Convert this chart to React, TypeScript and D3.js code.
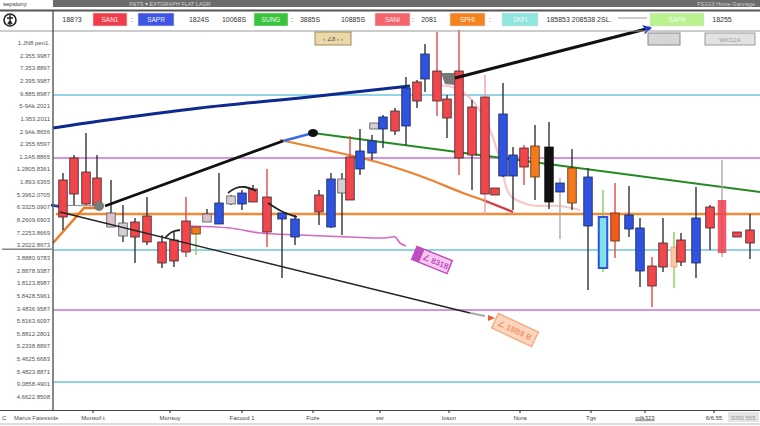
import React from 'react';
import * as d3 from 'd3';

const W = 760;
const H = 426;

// ---- candles (time index, prices) ----
const candleTime = [1.0, 2.1, 3.3, 4.4, 5.8, 7.0, 8.2, 9.4, 10.9, 12.1, 13.3, 14.3, 15.4, 16.6, 17.8, 18.9, 20.0, 21.4, 22.9, 24.2, 26.6, 27.8, 28.9, 29.7, 30.7, 31.9, 32.1, 33.0, 34.2, 35.3, 36.4, 37.2, 38.4, 39.4, 40.6, 41.9, 43.2, 44.2, 45.0, 46.0, 47.1, 48.2, 49.6, 50.7, 51.9, 53.5, 55.0, 56.2, 57.6, 58.7, 59.9, 61.0, 62.1, 62.8, 64.3, 65.7, 66.9, 68.4, 69.7];
const candleOpen = [2126, 2170, 2142, 2130, 2060, 2040, 2042, 2054, 2002, 2006, 2044, 2018, 2042, 2038, 2078, 2078, 2108, 2092, 2048, 2012, 2096, 2032, 2100, 2172, 2148, 2180, 2228, 2228, 2264, 2234, 2322, 2328, 2344, 2288, 2344, 2272, 2292, 2110, 2134, 2134, 2190, 2194, 2192, 2102, 2150, 2034, 1950, 2060, 2028, 1944, 1954, 2000, 1992, 2006, 1960, 2072, 2086, 2022, 2026];
const candleClose = [2052, 2098, 2078, 2076, 2032, 2014, 2012, 2002, 1960, 1964, 1982, 2032, 2058, 2080, 2094, 2100, 2082, 2022, 2060, 2048, 2062, 2128, 2128, 2086, 2184, 2204, 2240, 2252, 2224, 2310, 2284, 2378, 2284, 2250, 2170, 2176, 2098, 2096, 2258, 2176, 2152, 2132, 2082, 2120, 2080, 2132, 2052, 2004, 2056, 2030, 1914, 1952, 1952, 1962, 2050, 2030, 1980, 2012, 2000];
const candleHigh = [2140, 2176, 2220, 2176, 2126, 2076, 2050, 2092, 2016, 2022, 2092, 2032, 2068, 2140, 2096, 2106, 2116, 2148, 2060, 2056, 2106, 2140, 2140, 2214, 2228, 2216, 2240, 2256, 2270, 2332, 2326, 2398, 2422, 2296, 2426, 2286, 2336, 2110, 2320, 2192, 2196, 2236, 2242, 2130, 2188, 2150, 2106, 2120, 2114, 2050, 1972, 2050, 2022, 2020, 2112, 2076, 2166, 2022, 2058];
const candleLow = [2026, 2076, 2076, 2066, 2032, 2002, 1960, 1996, 1950, 1952, 1972, 1976, 2042, 2038, 2076, 2066, 2082, 1992, 1930, 1996, 2036, 2030, 2016, 2086, 2136, 2166, 2228, 2190, 2216, 2196, 2270, 2302, 2254, 2210, 2136, 2106, 2056, 2096, 2132, 2066, 2116, 2086, 2068, 2008, 2066, 1906, 1942, 1970, 2012, 1912, 1872, 1942, 1910, 1954, 1930, 1986, 1972, 2012, 1968];
const candleBody = ['R', 'R', 'R', 'R', 'PG', 'G', 'R', 'R', 'R', 'R', 'R', 'O', 'PG', 'B', 'G', 'B', 'R', 'R', 'B', 'B', 'R', 'B', 'G', 'R', 'B', 'B', 'G', 'B', 'R', 'B', 'R', 'B', 'R', 'R', 'R', 'R', 'R', 'R', 'B', 'B', 'R', 'O', 'K', 'B', 'O', 'B', 'C', 'OR', 'B', 'B', 'R', 'R', 'LO', 'R', 'B', 'R', 'RT', 'R', 'R'];
const candleWick = ['D', 'D', 'D', 'D', 'D', 'D', 'D', 'D', 'D', 'D', 'Rw', 'Gw', 'D', 'D', 'D', 'D', 'D', 'Rw', 'D', 'D', 'D', 'D', 'D', 'Rw', 'D', 'D', 'D', 'D', 'D', 'D', 'D', 'D', 'Rw', 'D', 'Rw', 'D', 'LRw', 'D', 'D', 'D', 'Rw', 'D', 'D', 'Gy', 'D', 'D', 'Gw', 'Rw', 'D', 'D', 'Rw', 'D', 'Gw', 'D', 'D', 'D', 'Gy', 'D', 'D'];

// ---- axis labels ----
const yTickLabels = ['1.JN8 pen1.', '2.355.9987', '7.353.8897', '2.395.9987', '9.885.8987', '5-9Ak.2021', '1.953.2011', '2.9Ak.8656', '2.355.6597', '1.2A5.8865', '1.2805.8361', '1.893.6365', '5.3962.0705', '6.3325.0907', '8.2609.6903', '7.2253.8669', '3.2022.8673', '3.8880.9783', '2.8878.9387', '3.8123.8987', '5.8428.5961', '3.4836.9587', '5.8163.6097', '5.8812.2801', '5.2338.8897', '5.4625.6683', '5.4823.8871', '9.0858.4901', '4.6622.8508'];
const xTickTimes = [4.0, 11.7, 18.9, 26.0, 32.7, 39.6, 46.7, 53.8, 59.2, 66.1];
const xTickLabels = ['Monsof-t', 'Monsuy', 'Facood 1', 'Fuze', 'ssr', 'loson', 'Nora', 'Tgs', 'cdk323', '6/6.55'];

// ---- horizontal levels ----
const levelsCyan = [2296, 1986, 1722];
const levelsPurple = [2170, 1866];
const levelOrange = 2058;

// ---- trend lines / indicators ----
const navyT = [0, 4.7, 14.7, 24.7, 35.7];
const navyP = [2230, 2244, 2270, 2290, 2314];
const upperT = [40.2, 59.7];
const upperP = [2330, 2430];
const midT = [5.2, 23.0];
const midP = [2074, 2204];
const blueStubT = [23.0, 26.0];
const blueStubP = [2204, 2220];
const greenT = [26.0, 70.7];
const greenP = [2220, 2102];
const thinT = [0.7, 41.7];
const thinP = [2062, 1860];
const orangeLeftT = [0, 3.1, 4.7];
const orangeLeftP = [2000, 2070, 2070];
const orangeCurveT = [22.7, 28.7, 32.4, 37.0, 41.0, 43.0];
const orangeCurveP = [2206, 2180, 2162, 2132, 2100, 2086];
const redTailT = [43.0, 46.0];
const redTailP = [2086, 2062];
const pinkT = [13.7, 17.7, 20.7, 24.7, 29.7, 33.2, 34.2, 34.7, 35.3];
const pinkP = [2034, 2030, 2020, 2016, 2012, 2010, 2012, 2000, 1994];
const faintT = [38.7, 40.2, 41.7, 43.5, 44.7, 45.7, 47.7, 50.7, 52.7];
const faintP = [2316, 2310, 2290, 2236, 2166, 2096, 2076, 2074, 2066];
const sma1T = [11.2, 11.9, 12.7];
const sma1P = [2010, 2022, 2026];
const sma2T = [17.5, 18.3, 19.2, 20.3];
const sma2P = [2100, 2110, 2112, 2104];
const sma3T = [21.5, 23.0, 24.4];
const sma3P = [2080, 2062, 2052];

const BODY: Record<string, { fill: string; stroke: string; sw: number; op: number }> = {
  R: { fill: '#f2464c', stroke: '#3a2a2a', sw: 0.8, op: 1 },
  B: { fill: '#2f52e0', stroke: '#1a2a5a', sw: 0.8, op: 1 },
  G: { fill: '#d6cdd6', stroke: '#555', sw: 0.8, op: 1 },
  PG: { fill: '#dcc2ca', stroke: '#555', sw: 0.8, op: 1 },
  O: { fill: '#f47a1e', stroke: '#5a3010', sw: 0.8, op: 1 },
  K: { fill: '#111', stroke: '#111', sw: 0.8, op: 1 },
  C: { fill: '#7fe2e8', stroke: '#2f52e0', sw: 2, op: 1 },
  OR: { fill: '#f25a1a', stroke: '#5a3010', sw: 0.8, op: 1 },
  LO: { fill: '#f8c4a4', stroke: '#f0a070', sw: 0.8, op: 1 },
  RT: { fill: '#f0404e', stroke: 'none', sw: 0, op: 0.85 },
};
const WICK: Record<string, string> = { D: '#333', Rw: '#e04848', Gw: '#8ccc5a', LRw: '#f0a0a0', Gy: '#b0a8a8' };

const FONT = 'Liberation Sans, Arial, sans-serif';

export default function App() {
  const x = d3.scaleLinear().domain([0, 70.7]).range([53, 760]);
  const y = d3.scaleLinear().domain([1692, 2400]).range([397, 43]);
  const yLab = d3.scalePoint<number>().domain(d3.range(yTickLabels.length)).range([43, 397]);
  const zip = (ts: number[], ps: number[]) => ts.map((t, i) => [t, ps[i]] as [number, number]);
  const straight = d3.line<[number, number]>().x(d => x(d[0])).y(d => y(d[1]));
  const smooth = d3.line<[number, number]>().x(d => x(d[0])).y(d => y(d[1])).curve(d3.curveCatmullRom.alpha(0.5));
  const bw = x(0.85) - x(0);

  const upEnd = [x(upperT[1]), y(upperP[1])];
  const upAng = Math.atan2(y(upperP[1]) - y(upperP[0]), x(upperT[1]) - x(upperT[0])) * 180 / Math.PI;

  const toolbar: { kind: string; x: number; w?: number; label: string; fill?: string }[] = [
    { kind: 't', x: 72, label: '188?3' },
    { kind: 'b', x: 93, w: 34, label: 'SAN1', fill: '#f23c4a' },
    { kind: 't', x: 132, label: ':' },
    { kind: 'b', x: 138, w: 36, label: 'SAPR', fill: '#3f55e6' },
    { kind: 't', x: 199, label: '1824S' },
    { kind: 't', x: 234, label: '10068S' },
    { kind: 'b', x: 254, w: 34, label: 'SUNG', fill: '#38c43c' },
    { kind: 't', x: 292, label: ':' },
    { kind: 't', x: 310, label: '3885S' },
    { kind: 't', x: 353, label: '10885S' },
    { kind: 'b', x: 375, w: 35, label: 'SANI', fill: '#f4646a' },
    { kind: 't', x: 413, label: ':' },
    { kind: 't', x: 429, label: '2081' },
    { kind: 'b', x: 450, w: 35, label: 'SPHI', fill: '#f5821f' },
    { kind: 't', x: 490, label: ':' },
    { kind: 'b', x: 502, w: 36, label: 'SKFI', fill: '#8ee6dc' },
    { kind: 't', x: 579, label: '185853 208538 2SL.' },
    { kind: 'b', x: 650, w: 54, label: 'SAFR', fill: '#b9f28f' },
    { kind: 't', x: 722, label: '18255' },
  ];

  return (
    <svg width={W} height={H} style={{ position: 'absolute', left: 0, top: 0, background: '#fff' }} fontFamily={FONT}>
      <rect x={0} y={0} width={W} height={H} fill="#fff" />

      {/* horizontal levels */}
      {levelsCyan.map((p, i) => (
        <line key={'c' + i} x1={x(0)} x2={x(70.7)} y1={y(p)} y2={y(p)} stroke="#6ec6dc" strokeWidth={1.5} />
      ))}
      {levelsPurple.map((p, i) => (
        <line key={'p' + i} x1={x(0)} x2={x(70.7)} y1={y(p)} y2={y(p)} stroke="#c472d2" strokeWidth={1.5} />
      ))}
      <line x1={x(0.3)} x2={x(70.7)} y1={y(levelOrange)} y2={y(levelOrange)} stroke="#f28a3a" strokeWidth={2.6} />

      {/* faint overlays */}
      <path d={smooth(zip(faintT, faintP)) || ''} fill="none" stroke="#f4b4b4" strokeWidth={2.2} opacity={0.75} />
      <path d={smooth(zip(pinkT, pinkP)) || ''} fill="none" stroke="#d468c6" strokeWidth={1.6} />
      <path d={smooth(zip(orangeCurveT, orangeCurveP)) || ''} fill="none" stroke="#ee8030" strokeWidth={2.2} />
      <path d={straight(zip(redTailT, redTailP)) || ''} fill="none" stroke="#d83a3a" strokeWidth={2.2} />
      <path d={straight(zip(orangeLeftT, orangeLeftP)) || ''} fill="none" stroke="#ee7a20" strokeWidth={2.4} />
      <path d={straight(zip(greenT, greenP)) || ''} fill="none" stroke="#238a23" strokeWidth={2} />
      <path d={smooth(zip(navyT, navyP)) || ''} fill="none" stroke="#0f2a8e" strokeWidth={3} />
      <path d={straight([[-0.2, 2076], [4.6, 2074]]) || ''} fill="none" stroke="#888" strokeWidth={1} />
      <path d={straight([[-0.2, 2076], [0.8, 2072]]) || ''} fill="none" stroke="#2040b0" strokeWidth={2.5} />

      {/* candles */}
      {candleTime.map((t, i) => {
        const o = candleOpen[i];
        const c = candleClose[i];
        const top = y(Math.max(o, c));
        const bot = y(Math.min(o, c));
        const cx = x(t);
        const st = BODY[candleBody[i]];
        const w = candleBody[i] === 'LO' ? bw * 0.7 : bw;
        return (
          <g key={i}>
            <line x1={cx} x2={cx} y1={y(candleHigh[i])} y2={y(candleLow[i])} stroke={WICK[candleWick[i]]} strokeWidth={1.4} />
            <rect x={cx - w / 2} y={top} width={w} height={Math.max(bot - top, 2)} fill={st.fill} stroke={st.stroke} strokeWidth={st.sw} opacity={st.op} />
          </g>
        );
      })}

      {/* gray wedge near the high */}
      <path d={straight([[38.8, 2340], [40.2, 2340], [40.2, 2316], [39.2, 2318]]) + 'Z'} fill="#555" opacity={0.8} />

      {/* short SMA arcs */}
      {[zip(sma1T, sma1P), zip(sma2T, sma2P), zip(sma3T, sma3P)].map((pts, i) => (
        <path key={'s' + i} d={smooth(pts) || ''} fill="none" stroke="#222" strokeWidth={1.8} />
      ))}

      {/* black trend lines */}
      <path d={straight(zip(thinT, thinP)) || ''} fill="none" stroke="#222" strokeWidth={1.3} />
      <path d={straight([[41.7, 1860], [43.2, 1854]]) || ''} fill="none" stroke="#aaa" strokeWidth={2} />
      <path
        d={`M${x(43.5)},${y(1856)} l7,3 l-7,3 z`}
        fill="#f25a30"
      />
      <path d={straight(zip(midT, midP)) || ''} fill="none" stroke="#111" strokeWidth={2.8} />
      <path d={straight(zip(blueStubT, blueStubP)) || ''} fill="none" stroke="#3a6ae6" strokeWidth={2.5} />
      <path d={straight(zip(upperT, upperP)) || ''} fill="none" stroke="#111" strokeWidth={3} />
      <g transform={`translate(${upEnd[0]},${upEnd[1]}) rotate(${upAng})`}>
        <path d="M2,0 L-7,-5 L-5,0 L-7,5 Z" fill="#1c3ad0" />
      </g>
      <circle cx={x(4.6)} cy={y(2074)} r={5} fill="#7a7a7a" />
      <ellipse cx={x(26)} cy={y(2220)} rx={5} ry={4} fill="#111" />

      {/* rotated labels */}
      <g transform={`translate(${x(37.9)},${y(1966)}) rotate(22)`}>
        <rect x={-19} y={-7} width={38} height={14} fill="#f6c8f0" stroke="#c04cc0" strokeWidth={1.5} />
        <rect x={-19} y={-7} width={8} height={14} fill="#c04cc0" />
        <text x={4} y={3} fontSize={8} fill="#c04cc0" textAnchor="middle" fontWeight="bold">∠ 8318</text>
      </g>
      <g transform={`translate(${x(46.2)},${y(1826)}) rotate(25)`} opacity={0.85}>
        <rect x={-22} y={-8} width={44} height={16} fill="#fbd0b4" stroke="#f4a070" strokeWidth={1.5} />
        <text x={0} y={3} fontSize={8} fill="#f08850" textAnchor="middle" fontWeight="bold">∠ 18B8 B</text>
      </g>

      {/* top annotation boxes */}
      <rect x={315} y={32} width={36} height={13} fill="#ead8a8" stroke="#a08a5a" />
      <text x={333} y={41} fontSize={6} fill="#555" textAnchor="middle">‹ ∠8 › ›</text>
      <rect x={648} y={33} width={32} height={12} fill="#d6d6d6" stroke="#8a8a8a" />
      <text x={664} y={42} fontSize={6} fill="#555" textAnchor="middle">:</text>
      <rect x={705} y={33} width={50} height={12} fill="#e2e2e2" stroke="#9a9a9a" />
      <text x={730} y={42} fontSize={6} fill="#999" textAnchor="middle">WKC2A</text>

      {/* header band & toolbar */}
      <rect x={53} y={0} width={W - 53} height={7} fill="#6c6c6c" />
      <text x={170} y={5.5} fontSize={5.5} fill="#cfcfcf" textAnchor="middle">P&amp;TS ▾     EXTGRAPH     FLAT LAGR</text>
      <text x={755} y={5.5} fontSize={5.5} fill="#cfcfcf" textAnchor="end">FS1G3 Home Gannage</text>
      <text x={3} y={6} fontSize={6} fill="#333">sepsiony</text>
      <line x1={0} x2={W} y1={10.5} y2={10.5} stroke="#555" strokeWidth={1.8} />
      <line x1={0} x2={W} y1={31} y2={31} stroke="#999" strokeWidth={1.2} />
      <line x1={53} x2={53} y1={10} y2={411} stroke="#555" strokeWidth={1.4} />
      <circle cx={10} cy={20} r={6} fill="none" stroke="#222" strokeWidth={1.6} />
      <path d="M10,15 L10,25 M7,18 L13,18 M8,24 L10,21 L12,24" stroke="#222" strokeWidth={1.4} fill="none" />
      {toolbar.map((it, i) =>
        it.kind === 'b' ? (
          <g key={'tb' + i}>
            <rect x={it.x} y={13} width={it.w} height={13} fill={it.fill} stroke="#ddd" strokeWidth={0.6} />
            <text x={it.x + (it.w || 0) / 2} y={22} fontSize={6.5} fill="#fff" textAnchor="middle" opacity={0.9}>{it.label}</text>
          </g>
        ) : (
          <text key={'tb' + i} x={it.x} y={22} fontSize={7} fill="#333" textAnchor="middle">{it.label}</text>
        )
      )}
      <line x1={618} x2={647} y1={18} y2={18} stroke="#aaa" strokeWidth={1.2} />

      {/* y axis labels */}
      {yTickLabels.map((lab, i) => (
        <text key={'y' + i} x={50} y={(yLab(i) || 0) + 2} fontSize={6} fill="#555" textAnchor="end">{lab}</text>
      ))}
      <line x1={2} x2={53} y1={(yLab(16) || 0) + 4} y2={(yLab(16) || 0) + 4} stroke="#888" strokeWidth={1.5} />

      {/* x axis */}
      <line x1={0} x2={W} y1={410.5} y2={410.5} stroke="#444" strokeWidth={1.2} />
      <line x1={0} x2={W} y1={424} y2={424} stroke="#bbb" strokeWidth={1} />
      {xTickTimes.map((t, i) => (
        <g key={'x' + i}>
          <line x1={x(t)} x2={x(t)} y1={410} y2={413} stroke="#444" strokeWidth={1.2} />
          <text x={x(t)} y={419.5} fontSize={6} fill="#444" textAnchor="middle" textDecoration={i === 8 ? 'underline' : undefined}>{xTickLabels[i]}</text>
        </g>
      ))}
      <text x={2} y={419.5} fontSize={6} fill="#444">C</text>
      <text x={14} y={419.5} fontSize={6} fill="#555">Marus Fatesside</text>
      <rect x={728} y={412} width={31} height={10} fill="#e4e4e4" />
      <text x={743} y={419.5} fontSize={6} fill="#999" textAnchor="middle">3050 555</text>
    </svg>
  );
}
